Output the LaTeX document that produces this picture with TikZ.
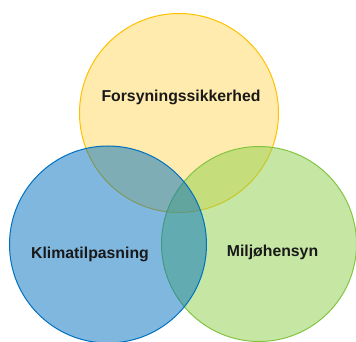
\documentclass[tikz,border=0pt]{standalone}
\usepackage{fontspec}
\setmainfont{Liberation Sans}
\definecolor{ylw}{HTML}{FFC000}
\definecolor{blu}{HTML}{0070C0}
\definecolor{grn}{HTML}{92D050}
\definecolor{grnline}{HTML}{84C442}
\tikzset{
  venn/.style={circle, inner sep=0pt, line width=1pt},
  lbl/.style={anchor=base, inner sep=0pt, font=\fontsize{15.8}{18}\selectfont\bfseries, text=black!90}
}
\begin{document}
\begin{tikzpicture}[x=1pt,y=1pt]
\useasboundingbox (0,0) rectangle (356,342);
\node[venn, minimum size=199pt, draw=ylw, fill=ylw, fill opacity=0.32] (top) at (179,229) {};
\node[venn, minimum size=195pt, draw=grnline, fill=grn, fill opacity=0.52] (right) at (259,98) {};
\node[venn, minimum size=197pt, draw=blu, fill=blu, fill opacity=0.5] (left) at (108,97.5) {};
\node[lbl] (t1) at (181,240.3) {Forsyningssikkerhed};
\node[lbl] (t2) at (90,83.7) {Klimatilpasning};
\node[lbl] (t3) at (272.5,85) {Miljøhensyn};
\end{tikzpicture}
\end{document}
